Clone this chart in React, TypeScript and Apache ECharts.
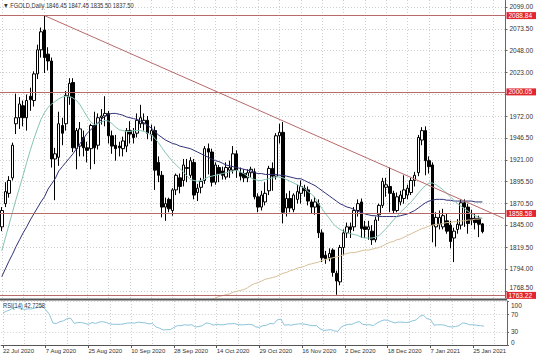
import React, { useEffect, useRef } from "react";
import * as echarts from "echarts";

const FONT = "'Liberation Sans', Arial, sans-serif";

const dates = [
  "22 Jul 2020", "23 Jul 2020", "24 Jul 2020", "27 Jul 2020", "28 Jul 2020", "29 Jul 2020", "30 Jul 2020", "31 Jul 2020", "3 Aug 2020", "4 Aug 2020",
  "5 Aug 2020", "6 Aug 2020", "7 Aug 2020", "10 Aug 2020", "11 Aug 2020", "12 Aug 2020", "13 Aug 2020", "14 Aug 2020", "17 Aug 2020", "18 Aug 2020",
  "19 Aug 2020", "20 Aug 2020", "21 Aug 2020", "24 Aug 2020", "25 Aug 2020", "26 Aug 2020", "27 Aug 2020", "28 Aug 2020", "31 Aug 2020", "1 Sep 2020",
  "2 Sep 2020", "3 Sep 2020", "4 Sep 2020", "7 Sep 2020", "8 Sep 2020", "9 Sep 2020", "10 Sep 2020", "11 Sep 2020", "14 Sep 2020", "15 Sep 2020",
  "16 Sep 2020", "17 Sep 2020", "18 Sep 2020", "21 Sep 2020", "22 Sep 2020", "23 Sep 2020", "24 Sep 2020", "25 Sep 2020", "28 Sep 2020", "29 Sep 2020",
  "30 Sep 2020", "1 Oct 2020", "2 Oct 2020", "5 Oct 2020", "6 Oct 2020", "7 Oct 2020", "8 Oct 2020", "9 Oct 2020", "12 Oct 2020", "13 Oct 2020",
  "14 Oct 2020", "15 Oct 2020", "16 Oct 2020", "19 Oct 2020", "20 Oct 2020", "21 Oct 2020", "22 Oct 2020", "23 Oct 2020", "25 Oct 2020", "26 Oct 2020",
  "27 Oct 2020", "28 Oct 2020", "29 Oct 2020", "30 Oct 2020", "2 Nov 2020", "3 Nov 2020", "4 Nov 2020", "5 Nov 2020", "6 Nov 2020", "9 Nov 2020",
  "10 Nov 2020", "11 Nov 2020", "12 Nov 2020", "13 Nov 2020", "16 Nov 2020", "17 Nov 2020", "18 Nov 2020", "19 Nov 2020", "20 Nov 2020", "23 Nov 2020",
  "24 Nov 2020", "25 Nov 2020", "26 Nov 2020", "27 Nov 2020", "30 Nov 2020", "1 Dec 2020", "2 Dec 2020", "3 Dec 2020", "4 Dec 2020", "7 Dec 2020",
  "8 Dec 2020", "9 Dec 2020", "10 Dec 2020", "11 Dec 2020", "14 Dec 2020", "15 Dec 2020", "16 Dec 2020", "17 Dec 2020", "18 Dec 2020", "21 Dec 2020",
  "22 Dec 2020", "23 Dec 2020", "24 Dec 2020", "28 Dec 2020", "29 Dec 2020", "30 Dec 2020", "31 Dec 2020", "4 Jan 2021", "5 Jan 2021", "6 Jan 2021",
  "7 Jan 2021", "8 Jan 2021", "11 Jan 2021", "12 Jan 2021", "13 Jan 2021", "14 Jan 2021", "15 Jan 2021", "18 Jan 2021", "19 Jan 2021", "20 Jan 2021",
  "21 Jan 2021", "22 Jan 2021", "25 Jan 2021", "26 Jan 2021", "27 Jan 2021", "28 Jan 2021",
];

const opens = [
  1843, 1870, 1882, 1900, 1963, 1970, 1984, 1970, 1995, 1990,
  2021, 2049, 2072, 2044, 2036, 1922, 1924, 1961, 1963, 1994,
  2011, 1934, 1937, 1947, 1935, 1934, 1961, 1938, 1970, 1972,
  1975, 1949, 1938, 1937, 1934, 1937, 1955, 1951, 1952, 1963,
  1963, 1967, 1950, 1955, 1918, 1903, 1866, 1875, 1862, 1886,
  1900, 1897, 1911, 1903, 1918, 1883, 1889, 1897, 1934, 1930,
  1895, 1912, 1908, 1901, 1909, 1909, 1928, 1906, 1905, 1900,
  1906, 1907, 1878, 1866, 1872, 1885, 1911, 1902, 1949, 1953,
  1865, 1876, 1863, 1875, 1882, 1888, 1886, 1872, 1866, 1870,
  1836, 1810, 1807, 1816, 1789, 1779, 1819, 1836, 1843, 1843,
  1862, 1872, 1843, 1840, 1838, 1828, 1857, 1868, 1889, 1890,
  1882, 1862, 1872, 1876, 1880, 1883, 1897, 1906, 1944, 1955,
  1920, 1915, 1843, 1846, 1843, 1850, 1845, 1830, 1840, 1845,
  1871, 1866, 1853, 1853, 1853, 1846.45,
];

const closes = [
  1862, 1884, 1897, 1938, 1970, 1986, 1970, 1990, 1991, 2021,
  2049, 2070, 2040, 2036, 1922, 1928, 1963, 1952, 1996, 2010,
  1935, 1955, 1957, 1935, 1932, 1961, 1935, 1970, 1972, 1975,
  1949, 1937, 1934, 1935, 1943, 1955, 1951, 1947, 1967, 1970,
  1967, 1952, 1955, 1909, 1903, 1866, 1870, 1864, 1886, 1903,
  1890, 1915, 1912, 1920, 1880, 1888, 1896, 1934, 1930, 1895,
  1915, 1905, 1903, 1912, 1912, 1928, 1909, 1902, 1900, 1906,
  1910, 1878, 1866, 1880, 1882, 1911, 1902, 1949, 1953, 1860,
  1876, 1865, 1880, 1884, 1890, 1885, 1873, 1866, 1872, 1836,
  1807, 1806, 1812, 1790, 1780, 1819, 1836, 1843, 1840, 1862,
  1870, 1841, 1840, 1843, 1828, 1851, 1868, 1896, 1892, 1882,
  1862, 1878, 1880, 1886, 1888, 1897, 1903, 1947, 1955, 1920,
  1913, 1845, 1854, 1854, 1856, 1838, 1826, 1838, 1846, 1871,
  1866, 1847, 1851, 1848, 1846, 1837.5,
];

const lows = [
  1838, 1866, 1877, 1897, 1951, 1957, 1960, 1955, 1978, 1983,
  2015, 2040, 2022, 2025, 1912, 1874, 1914, 1938, 1955, 1985,
  1930, 1910, 1925, 1925, 1918, 1910, 1916, 1933, 1962, 1960,
  1940, 1928, 1920, 1925, 1925, 1930, 1940, 1940, 1947, 1958,
  1955, 1945, 1943, 1886, 1895, 1854, 1850, 1860, 1856, 1880,
  1882, 1890, 1895, 1900, 1875, 1873, 1882, 1893, 1904, 1890,
  1892, 1895, 1898, 1898, 1900, 1905, 1900, 1897, 1895, 1895,
  1900, 1875, 1860, 1862, 1868, 1880, 1885, 1898, 1940, 1847,
  1855, 1860, 1860, 1870, 1870, 1878, 1868, 1858, 1857, 1830,
  1802, 1800, 1803, 1785, 1764, 1775, 1810, 1830, 1830, 1838,
  1855, 1830, 1830, 1828, 1822, 1825, 1850, 1865, 1878, 1860,
  1859, 1860, 1868, 1870, 1875, 1880, 1890, 1902, 1938, 1903,
  1905, 1825, 1820, 1840, 1840, 1835, 1818, 1802, 1835, 1840,
  1843, 1835, 1845, 1840, 1831, 1835.5,
];

const highs = [
  1866, 1895, 1902, 1941, 1998, 1994, 1990, 1997, 2005, 2024,
  2055, 2075, 2088.84, 2052, 2040, 1935, 1977, 1970, 2001, 2016,
  2016, 1958, 1965, 1955, 1942, 1963, 1977, 1975, 1980, 1995,
  1978, 1955, 1950, 1942, 1948, 1958, 1966, 1958, 1975, 1985,
  1975, 1972, 1962, 1960, 1925, 1908, 1877, 1877, 1888, 1905,
  1905, 1922, 1922, 1924, 1922, 1893, 1900, 1937, 1940, 1934,
  1918, 1915, 1913, 1918, 1920, 1937, 1932, 1912, 1910, 1910,
  1913, 1911, 1882, 1885, 1895, 1914, 1918, 1952, 1963, 1965,
  1882, 1885, 1882, 1892, 1897, 1892, 1890, 1875, 1878, 1875,
  1840, 1815, 1818, 1818, 1792, 1822, 1840, 1848, 1848, 1866,
  1875, 1876, 1850, 1850, 1845, 1855, 1870, 1900, 1900, 1912,
  1885, 1883, 1885, 1903, 1892, 1900, 1907, 1950, 1959, 1960,
  1925, 1918, 1860, 1862, 1864, 1858, 1850, 1842, 1852, 1875,
  1875, 1870, 1863, 1858, 1856, 1847.45,
];

const fastMA = [
  1815, 1830, 1845, 1860, 1875, 1889, 1903, 1918, 1932, 1945,
  1957, 1968, 1976, 1982, 1986, 1989, 1992, 1994, 1995, 1995,
  1993, 1990, 1985, 1978, 1971, 1965, 1962, 1963, 1965, 1967,
  1966, 1963, 1959, 1956, 1955, 1954, 1954, 1955, 1955, 1955,
  1954, 1952, 1950, 1946, 1941, 1935, 1929, 1924, 1919, 1915,
  1911, 1907, 1902, 1898, 1897, 1896, 1897, 1899, 1901, 1902,
  1903, 1904, 1905, 1906, 1907, 1908, 1909, 1907, 1905, 1902,
  1900, 1898, 1897, 1897, 1898, 1899, 1900, 1901, 1901, 1900,
  1898, 1896, 1894, 1892, 1890, 1888, 1884, 1881, 1877, 1870,
  1864, 1858, 1853, 1847, 1843, 1840, 1838, 1836, 1835, 1834,
  1833, 1831, 1830, 1830, 1830, 1831, 1833, 1837, 1841, 1846,
  1851, 1855, 1860, 1864, 1868, 1872, 1877, 1882, 1887, 1891,
  1894, 1894, 1892, 1889, 1886, 1882, 1878, 1874, 1870, 1867,
  1864, 1861, 1858, 1856, 1854, 1853,
];

const slowMA = [
  1785, 1794, 1803, 1811, 1820, 1828, 1836, 1843, 1851, 1858,
  1865, 1872, 1878, 1887, 1893, 1899, 1908, 1913, 1918, 1923,
  1928, 1934, 1940, 1946, 1952, 1956, 1960, 1964, 1968, 1972,
  1974, 1975, 1975, 1974, 1973, 1971, 1970, 1969, 1968, 1966,
  1964, 1961, 1958, 1954, 1950, 1947, 1944, 1942, 1940, 1939,
  1937, 1936, 1935, 1934, 1932, 1930, 1928, 1926, 1924, 1922,
  1920, 1919, 1917, 1915, 1914, 1913, 1912, 1911, 1910, 1909,
  1908, 1906, 1905, 1905, 1904, 1904, 1904, 1904, 1903, 1903,
  1902, 1901, 1900, 1899, 1899, 1897, 1895, 1893, 1891, 1888,
  1885, 1882, 1879, 1876, 1873, 1870, 1868, 1866, 1865, 1863,
  1861, 1860, 1858, 1857, 1856, 1856, 1855, 1855, 1855, 1855,
  1855, 1855, 1856, 1857, 1858, 1860, 1862, 1865, 1868, 1871,
  1873, 1874, 1875, 1875, 1875, 1874, 1874, 1873, 1873, 1873,
  1873, 1873, 1873, 1872, 1872, 1872,
];

const longMA = [
  null, null, null, null, null, null, null, null, null, null,
  null, null, null, null, null, null, null, null, null, null,
  null, null, null, null, null, null, null, null, null, null,
  null, null, null, null, null, null, null, null, null, null,
  null, null, null, null, null, null, null, null, null, null,
  null, null, null, null, null, null, null, 1756, 1758, 1759,
  1760, 1762, 1763, 1764, 1765, 1767, 1768, 1769, 1770, 1772,
  1775, 1777, 1778, 1780, 1782, 1783, 1784, 1785, 1787, 1789,
  1790, 1792, 1793, 1795, 1796, 1797, 1799, 1800, 1801, 1802,
  1804, 1805, 1806, 1807, 1808, 1809, 1811, 1812, 1813, 1813,
  1814, 1815, 1816, 1816, 1817, 1818, 1819, 1821, 1823, 1825,
  1826, 1828, 1829, 1831, 1833, 1835, 1837, 1839, 1841, 1842,
  1844, 1845, 1846, 1846, 1847, 1848, 1848, 1849, 1849, 1850,
  1850, 1851, 1851, 1852, 1852, 1853,
];

const rsi = [
  73, 77, 80, 85, 85, 83, 81, 82, 82, 84,
  86, 88, 80, 70, 50, 49, 53, 55, 60, 61,
  49, 51, 51, 49, 47, 51, 49, 52, 53, 51,
  48, 47, 47, 47, 48, 50, 50, 50, 52, 51,
  50, 48, 49, 41, 38, 34, 35, 35, 40, 44,
  44, 46, 45, 46, 41, 42, 44, 50, 49, 45,
  47, 46, 46, 48, 48, 49, 46, 46, 46, 47,
  46, 41, 40, 44, 45, 49, 48, 57, 59, 45,
  46, 45, 47, 48, 48, 47, 45, 44, 44, 37,
  33, 34, 35, 32, 31, 41, 45, 47, 47, 51,
  53, 47, 46, 46, 44, 50, 54, 57, 56, 53,
  50, 52, 52, 51, 52, 55, 57, 65, 68, 60,
  58, 45, 46, 46, 45, 42, 41, 42, 44, 50,
  49, 46, 46, 45, 44, 42.7258,
];

const priceGridTicks = [2099.0, 2073.5, 2048.0, 2023.0, 1997.5, 1972.0, 1946.5, 1921.0, 1895.5, 1870.5, 1845.0, 1819.5, 1794.0, 1768.5];
const priceLabelTicks = [2099.0, 2073.5, 2048.0, 2023.0, 1972.0, 1946.5, 1921.0, 1895.5, 1870.5, 1845.0, 1819.5, 1794.0, 1768.5];
const rsiLabelTicks = [0, 30, 70, 100];
const rsiLevels = [30, 70];
const levels = [2088.84, 2000.05, 1858.58, 1763.22];
const trendStart = { date: "7 Aug 2020", price: 2088.84 };
const trendEndPrice = 1852.8;
const padCount = 6;

const symbolName = "FGOLD,Daily";

export default function App() {
  const ref = useRef<HTMLDivElement>(null);

  useEffect(() => {
    if (!ref.current) return;
    const chart = echarts.init(ref.current, null, { renderer: "svg" });

    const pads = Array.from({ length: padCount }, (_, i) => `pad${i + 1}`);
    const cats = [...dates, ...pads];
    const candleData = opens.map((o, i) => [o, closes[i], lows[i], highs[i]]);
    const n = dates.length;
    const last = n - 1;
    const every12 = (i: number) => i % 12 === 0 && i < n;
    const every6 = (i: number) => i % 6 === 0;

    const grey = "#333";
    const gridLine = { color: "#cfcfcf", type: [1, 2] as any, width: 1 };
    const levelColor = "#b86a6a";
    const lowestLabel = priceLabelTicks[priceLabelTicks.length - 1];

    const boxLabel = (bg: string, text: string) => ({
      show: true,
      position: "end",
      distance: 1,
      formatter: text,
      backgroundColor: bg,
      color: "#fff",
      fontSize: 6.5,
      lineHeight: 7,
      fontFamily: FONT,
      padding: [0, 4, 0, 2],
    });

    const markData: any[] = levels.map((v) => ({
      yAxis: v,
      lineStyle: { color: levelColor, width: 1, type: "solid" },
      label: boxLabel("#e3262c", v.toFixed(2)),
    }));
    markData.push({
      yAxis: closes[last],
      lineStyle: { opacity: 0 },
      label: boxLabel("#000", closes[last].toFixed(2)),
    });
    markData.push([
      { coord: [trendStart.date, trendStart.price] },
      { coord: [pads[pads.length - 1], trendEndPrice] },
    ]);

    const title = `▼ ${symbolName} ${opens[last].toFixed(2)} ${highs[last].toFixed(2)} ${lows[last].toFixed(2)} ${closes[last].toFixed(2)}`;

    const option: any = {
      animation: false,
      backgroundColor: "#fff",
      textStyle: { fontFamily: FONT },
      grid: [
        { left: 0, right: 29, top: 0, height: 298, show: false },
        { left: 0, right: 29, top: 301, height: 44, show: false },
      ],
      xAxis: [
        {
          type: "category",
          gridIndex: 0,
          data: cats,
          boundaryGap: true,
          axisLine: { show: false },
          axisTick: { show: false },
          axisLabel: { show: false },
          splitLine: { show: true, interval: every6, alignWithLabel: true, lineStyle: gridLine },
        },
        {
          type: "category",
          gridIndex: 1,
          data: cats,
          boundaryGap: true,
          axisLine: { show: true, lineStyle: { color: "#555", width: 1 } },
          axisTick: { show: true, interval: every12, alignWithLabel: true, length: 3, lineStyle: { color: "#555" } },
          axisLabel: {
            show: true,
            interval: every12,
            align: "left",
            fontSize: 6,
            color: grey,
            margin: 3,
            fontFamily: FONT,
          },
          splitLine: { show: true, interval: every6, alignWithLabel: true, lineStyle: gridLine },
        },
      ],
      yAxis: [
        {
          type: "value",
          gridIndex: 0,
          position: "right",
          min: 1760.2,
          max: 2107,
          axisLine: { show: true, lineStyle: { color: "#666", width: 1 } },
          axisTick: { show: true, customValues: priceGridTicks, length: 2, lineStyle: { color: "#666" } },
          axisLabel: {
            customValues: priceLabelTicks,
            formatter: (v: number) =>
              v === lowestLabel ? `{lift|${v.toFixed(2)}}` : v === 1845 ? `{nudge|${v.toFixed(2)}}` : v.toFixed(2),
            rich: {
              lift: { fontSize: 6.5, padding: [0, 0, 6, 0], color: grey, fontFamily: FONT },
              nudge: { fontSize: 6.5, padding: [0, 0, 2, 0], color: grey, fontFamily: FONT },
            },
            fontSize: 6.5,
            color: grey,
            margin: 4,
            fontFamily: FONT,
          },
          splitLine: { show: true, customValues: priceGridTicks, lineStyle: gridLine },
        },
        {
          type: "value",
          gridIndex: 1,
          position: "right",
          min: 0,
          max: 100,
          axisLine: { show: true, lineStyle: { color: "#666", width: 1 } },
          axisTick: { show: true, customValues: rsiLabelTicks, length: 2, lineStyle: { color: "#666" } },
          axisLabel: {
            customValues: rsiLabelTicks,
            formatter: (v: number) => (v === 100 ? `{top|${v}}` : v === 0 ? `{bot|${v}}` : String(v)),
            rich: {
              top: { fontSize: 6.5, padding: [8, 0, 0, 0], color: grey, fontFamily: FONT },
              bot: { fontSize: 6.5, padding: [0, 0, 5, 0], color: grey, fontFamily: FONT },
            },
            fontSize: 6.5,
            color: grey,
            margin: 4,
            fontFamily: FONT,
          },
          splitLine: { show: true, customValues: rsiLevels, lineStyle: gridLine },
        },
      ],
      series: [
        {
          type: "candlestick",
          xAxisIndex: 0,
          yAxisIndex: 0,
          data: candleData,
          barWidth: 3,
          itemStyle: {
            color: "#ffffff",
            color0: "#000000",
            borderColor: "#000000",
            borderColor0: "#000000",
            borderWidth: 1,
          },
          markLine: {
            silent: true,
            symbol: ["none", "none"],
            animation: false,
            label: { show: false },
            lineStyle: { color: levelColor, width: 1, type: "solid" },
            data: markData,
          },
        },
        {
          type: "line",
          xAxisIndex: 0,
          yAxisIndex: 0,
          data: longMA,
          symbol: "none",
          lineStyle: { color: "#d8bf98", width: 1 },
          z: 3,
        },
        {
          type: "line",
          xAxisIndex: 0,
          yAxisIndex: 0,
          data: slowMA,
          symbol: "none",
          lineStyle: { color: "#2f3175", width: 1 },
          z: 3,
        },
        {
          type: "line",
          xAxisIndex: 0,
          yAxisIndex: 0,
          data: fastMA,
          symbol: "none",
          lineStyle: { color: "#86c4b6", width: 1 },
          z: 3,
        },
        {
          type: "line",
          xAxisIndex: 1,
          yAxisIndex: 1,
          data: rsi,
          symbol: "none",
          lineStyle: { color: "#8cc3da", width: 1 },
        },
      ],
      graphic: [
        {
          type: "rect",
          shape: { x: 0, y: 298.5, width: 507, height: 2 },
          style: { fill: "#555" },
          silent: true,
          z: 10,
        },
        {
          type: "text",
          x: 3,
          y: 2,
          scaleX: 0.82,
          style: { text: title, fontSize: 7, fill: grey, fontFamily: FONT, verticalAlign: "top" },
          z: 10,
        },
        {
          type: "text",
          x: 3,
          y: 302,
          scaleX: 0.82,
          style: { text: `RSI(14) ${rsi[last].toFixed(4)}`, fontSize: 7, fill: grey, fontFamily: FONT, verticalAlign: "top" },
          z: 10,
        },
      ],
    };

    chart.setOption(option);
    return () => chart.dispose();
  }, []);

  return <div ref={ref} style={{ width: 536, height: 357, position: "absolute", left: 0, top: 0 }} />;
}
